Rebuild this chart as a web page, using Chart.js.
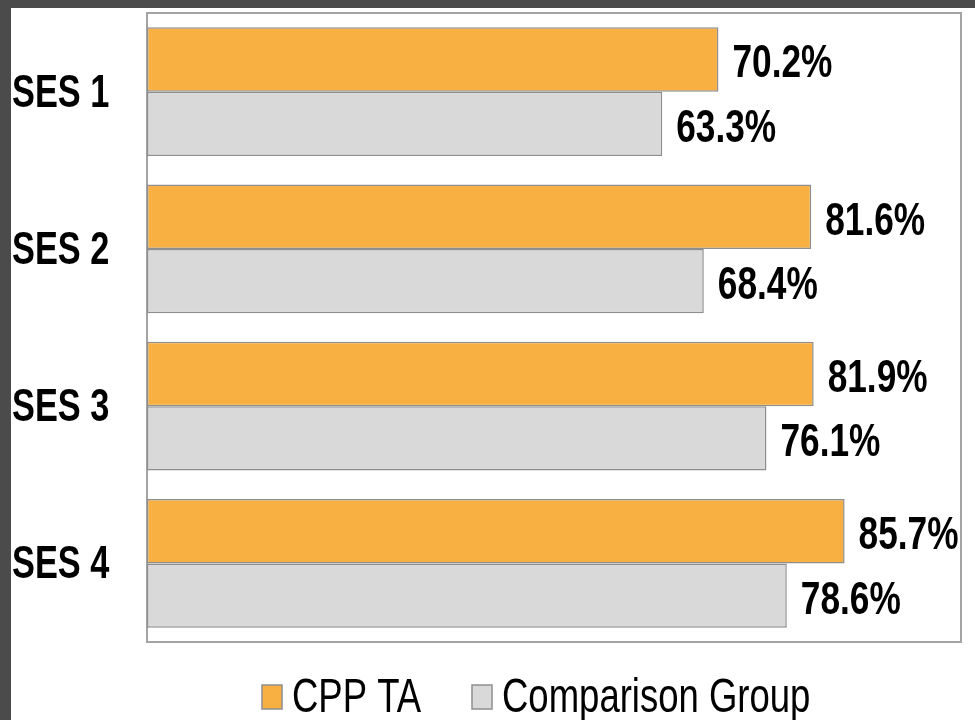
<!DOCTYPE html>
<html>
<head>
<meta charset="utf-8">
<script src="https://cdn.jsdelivr.net/npm/chart.js@4"></script>
<style>
  html, body { margin: 0; padding: 0; background: #4b4b4b; width: 975px; height: 720px; overflow: hidden; }
  #frame { position: absolute; left: 11px; top: 8px; width: 964px; height: 712px; background: #ffffff; }
  canvas { display: block; }
</style>
</head>
<body>
<div id="frame"><canvas id="c" width="964" height="712"></canvas></div>
<script>
const categories = ["SES 1", "SES 2", "SES 3", "SES 4"];
const seriesNames = ["CPP TA", "Comparison Group"];
const cppTA = [70.2, 81.6, 81.9, 85.7];
const comparison = [63.3, 68.4, 76.1, 78.6];
const xMin = 0, xMax = 100;

const ORANGE = "#F9B042";
const GRAY = "#D9D9D9";
const EDGE = "#8E8E8E";
const FONT = "'Liberation Sans', Arial, sans-serif";
const SX = 0.75;

function scaledText(ctx, text, x, y, font, sx, align) {
  ctx.save();
  ctx.font = font;
  ctx.fillStyle = "#000";
  ctx.textBaseline = "alphabetic";
  ctx.translate(x, y);
  ctx.scale(sx, 1);
  ctx.textAlign = align || "left";
  ctx.fillText(text, 0, 0);
  ctx.restore();
}

const decor = {
  id: "decor",
  beforeDatasetsDraw(chart) {
    const { ctx, chartArea: a } = chart;
    ctx.save();
    ctx.strokeStyle = "#A3A3A3";
    ctx.lineWidth = 2;
    ctx.strokeRect(a.left, a.top, a.right - a.left, a.bottom - a.top);
    ctx.restore();
  },
  afterDatasetsDraw(chart) {
    const { ctx } = chart;
    // value labels
    chart.data.datasets.forEach((ds, di) => {
      const meta = chart.getDatasetMeta(di);
      meta.data.forEach((bar, i) => {
        const v = ds.data[i];
        scaledText(ctx, v.toFixed(1) + "%", bar.x + 14, bar.y + 18, "bold 47px " + FONT, SX);
      });
    });
    // category labels
    const yScale = chart.scales.y;
    categories.forEach((c, i) => {
      const y = yScale.getPixelForValue(i);
      scaledText(ctx, c, 1, y + 15, "bold 47px " + FONT, 0.73);
    });
    // legend
    const colors = [ORANGE, GRAY];
    const lx = [251, 461];
    seriesNames.forEach((n, i) => {
      ctx.save();
      ctx.fillStyle = colors[i];
      ctx.strokeStyle = EDGE;
      ctx.lineWidth = 1.5;
      ctx.fillRect(lx[i], 677, 20, 24);
      ctx.strokeRect(lx[i], 677, 20, 24);
      ctx.restore();
      scaledText(ctx, n, lx[i] + 30, 704, "49px " + FONT, 0.745);
    });
  }
};

new Chart(document.getElementById("c"), {
  type: "bar",
  data: {
    labels: categories,
    datasets: [
      { label: seriesNames[0], data: cppTA, backgroundColor: ORANGE, borderColor: EDGE, borderWidth: 1.5, borderSkipped: false,
        categoryPercentage: 0.82, barPercentage: 1.0 },
      { label: seriesNames[1], data: comparison, backgroundColor: GRAY, borderColor: EDGE, borderWidth: 1.5, borderSkipped: false,
        categoryPercentage: 0.82, barPercentage: 1.0 }
    ]
  },
  options: {
    indexAxis: "y",
    responsive: false,
    animation: false,
    devicePixelRatio: 1,
    layout: { padding: { left: 136, top: 5, right: 14, bottom: 78 } },
    scales: {
      x: { display: false, min: xMin, max: xMax },
      y: { display: false }
    },
    plugins: { legend: { display: false }, tooltip: { enabled: false } }
  },
  plugins: [decor]
});
</script>
</body>
</html>
